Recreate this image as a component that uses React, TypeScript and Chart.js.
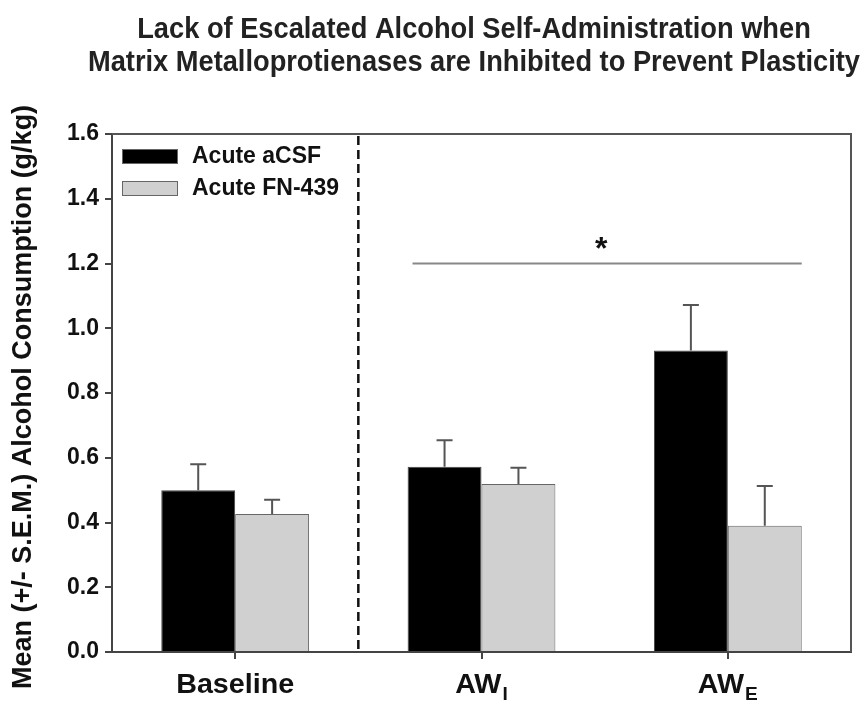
import React, { useEffect, useRef } from "react";
import { Chart, registerables } from "chart.js";

Chart.register(...registerables);

// ---- data ----
const categories = ["Baseline", "AW", "AW"];
const subscripts = ["", "I", "E"];
const seriesNames = ["Acute aCSF", "Acute FN-439"];
const acsfMeans = [0.5, 0.572, 0.931];
const acsfSEM = [0.08, 0.082, 0.141];
const fnMeans = [0.426, 0.519, 0.39];
const fnSEM = [0.044, 0.05, 0.123];
const yTickValues = [0, 0.2, 0.4, 0.6, 0.8, 1.0, 1.2, 1.4, 1.6];
const titleLines = [
  "Lack of Escalated Alcohol Self-Administration when",
  "Matrix Metalloprotienases are Inhibited to Prevent Plasticity",
];
const yAxisTitle = "Mean (+/- S.E.M.) Alcohol Consumption (g/kg)";
// significance annotation (category index range, value, mark)
const sigFrom = 0.72;
const sigTo = 2.3;
const sigValue = 1.2;
const sigMark = "*";

const W = 865;
const H = 702;
const FONT = '"Liberation Sans", Arial, Helvetica, sans-serif';

const decorPlugin = {
  id: "decor",
  afterDatasetsDraw(chart: any) {
    const ctx = chart.ctx;
    const xs = chart.scales.x;
    const ys = chart.scales.y;
    const ca = chart.chartArea;
    ctx.save();

    // frame top & right
    ctx.strokeStyle = "#555";
    ctx.lineWidth = 2;
    ctx.beginPath();
    ctx.moveTo(ca.left, ca.top);
    ctx.lineTo(ca.right, ca.top);
    ctx.lineTo(ca.right, ca.bottom);
    ctx.stroke();

    // dashed separator
    const xd = (xs.getPixelForValue(0) + xs.getPixelForValue(1)) / 2;
    ctx.strokeStyle = "#111";
    ctx.lineWidth = 2.5;
    ctx.setLineDash([9, 5]);
    ctx.beginPath();
    ctx.moveTo(xd, ca.top + 2);
    ctx.lineTo(xd, ca.bottom - 2);
    ctx.stroke();
    ctx.setLineDash([]);

    // error bars
    const sems = [acsfSEM, fnSEM];
    const means = [acsfMeans, fnMeans];
    ctx.strokeStyle = "#555";
    ctx.lineWidth = 2;
    for (let d = 0; d < 2; d++) {
      const meta = chart.getDatasetMeta(d);
      meta.data.forEach((el: any, i: number) => {
        const yTop = ys.getPixelForValue(means[d][i]);
        const yErr = ys.getPixelForValue(means[d][i] + sems[d][i]);
        ctx.beginPath();
        ctx.moveTo(el.x, yTop);
        ctx.lineTo(el.x, yErr);
        ctx.moveTo(el.x - 8, yErr);
        ctx.lineTo(el.x + 8, yErr);
        ctx.stroke();
      });
    }

    // significance line
    const sx1 = xs.getPixelForValue(sigFrom);
    const sx2 = xs.getPixelForValue(sigTo);
    const sy = ys.getPixelForValue(sigValue);
    ctx.strokeStyle = "#888";
    ctx.lineWidth = 2;
    ctx.beginPath();
    ctx.moveTo(sx1, sy);
    ctx.lineTo(sx2, sy);
    ctx.stroke();
    ctx.fillStyle = "#111";
    ctx.font = `bold 32px ${FONT}`;
    ctx.textAlign = "center";
    ctx.textBaseline = "middle";
    ctx.fillText(sigMark, (sx1 + sx2) / 2 - 6, sy - 13);

    // legend
    const colors = ["#000000", "#d0d0d0"];
    const lx = ca.left + 10;
    const ly = ca.top + 15;
    for (let i = 0; i < 2; i++) {
      const yy = ly + i * 32;
      ctx.fillStyle = colors[i];
      ctx.fillRect(lx, yy, 56, 15);
      ctx.strokeStyle = "#666";
      ctx.lineWidth = 1;
      ctx.strokeRect(lx + 0.5, yy + 0.5, 55, 14);
      ctx.fillStyle = "#111";
      ctx.font = `bold 23px ${FONT}`;
      ctx.textAlign = "left";
      ctx.textBaseline = "middle";
      ctx.fillText(seriesNames[i], lx + 70, yy + 8);
    }

    // title (shared horizontal condensing)
    ctx.fillStyle = "#222";
    ctx.font = `bold 29px ${FONT}`;
    ctx.textBaseline = "alphabetic";
    ctx.textAlign = "center";
    const w2 = ctx.measureText(titleLines[1]).width;
    const sxT = 772 / w2;
    ctx.save();
    ctx.translate(474, 0);
    ctx.scale(sxT, 1);
    ctx.fillText(titleLines[0], 0, 38);
    ctx.fillText(titleLines[1], 0, 71);
    ctx.restore();

    // y axis title
    ctx.save();
    ctx.translate(24, 397);
    ctx.rotate(-Math.PI / 2);
    ctx.font = `bold 27px ${FONT}`;
    ctx.fillStyle = "#111";
    ctx.textAlign = "center";
    ctx.textBaseline = "middle";
    ctx.fillText(yAxisTitle, 0, 0, 600);
    ctx.restore();

    // x labels with subscripts
    ctx.font = `bold 27px ${FONT}`;
    const baseW = ctx.measureText("Baseline").width;
    const sxLab = 118 / baseW;
    categories.forEach((c, i) => {
      const cx = xs.getPixelForValue(i);
      ctx.save();
      ctx.translate(cx, 693);
      ctx.scale(sxLab, 1);
      ctx.fillStyle = "#111";
      ctx.textBaseline = "alphabetic";
      ctx.font = `bold 27px ${FONT}`;
      const mw = ctx.measureText(c).width;
      ctx.font = `bold 18px ${FONT}`;
      const sw = subscripts[i] ? ctx.measureText(subscripts[i]).width + 1 : 0;
      const total = mw + sw;
      ctx.textAlign = "left";
      ctx.font = `bold 27px ${FONT}`;
      ctx.fillText(c, -total / 2, 0);
      if (subscripts[i]) {
        ctx.font = `bold 18px ${FONT}`;
        ctx.fillText(subscripts[i], -total / 2 + mw + 1, 7);
      }
      ctx.restore();
    });

    ctx.restore();
  },
};

export default function App() {
  const ref = useRef<HTMLCanvasElement | null>(null);
  useEffect(() => {
    document.body.style.margin = "0";
    const canvas = ref.current;
    if (!canvas) return;
    const chart = new Chart(canvas, {
      type: "bar",
      data: {
        labels: categories,
        datasets: [
          {
            label: seriesNames[0],
            data: acsfMeans,
            backgroundColor: "#000000",
            borderColor: "#444",
            borderWidth: 1,
          },
          {
            label: seriesNames[1],
            data: fnMeans,
            backgroundColor: "#d0d0d0",
            borderColor: "#666",
            borderWidth: 1,
          },
        ],
      },
      options: {
        responsive: false,
        animation: false,
        devicePixelRatio: 1,
        layout: { padding: { top: 134, right: 14, left: 0, bottom: 0 } },
        plugins: {
          legend: { display: false },
          tooltip: { enabled: false },
          title: { display: false },
        },
        datasets: {
          bar: { categoryPercentage: 0.6, barPercentage: 1.0 },
        },
        scales: {
          x: {
            offset: true,
            grid: {
              offset: false,
              drawOnChartArea: false,
              drawTicks: true,
              tickLength: 7,
              color: "#444",
              lineWidth: 2,
            },
            border: { color: "#444", width: 2 },
            ticks: { display: false },
            afterFit: (s: any) => {
              s.height = 50;
            },
          },
          y: {
            min: 0,
            max: 1.6,
            afterBuildTicks: (s: any) => {
              s.ticks = yTickValues.map((v) => ({ value: v }));
            },
            ticks: {
              callback: (v: any) => Number(v).toFixed(1),
              font: { family: FONT, size: 23, weight: "bold" },
              color: "#111",
              padding: 6,
            },
            grid: {
              drawOnChartArea: false,
              drawTicks: true,
              tickLength: 7,
              color: "#444",
              lineWidth: 2,
            },
            border: { color: "#444", width: 2 },
            afterFit: (s: any) => {
              s.width = 112;
            },
          },
        },
      },
      plugins: [decorPlugin],
    } as any);
    return () => chart.destroy();
  }, []);
  return (
    <div style={{ width: W, height: H, background: "#fff" }}>
      <canvas ref={ref} width={W} height={H} style={{ display: "block" }} />
    </div>
  );
}
